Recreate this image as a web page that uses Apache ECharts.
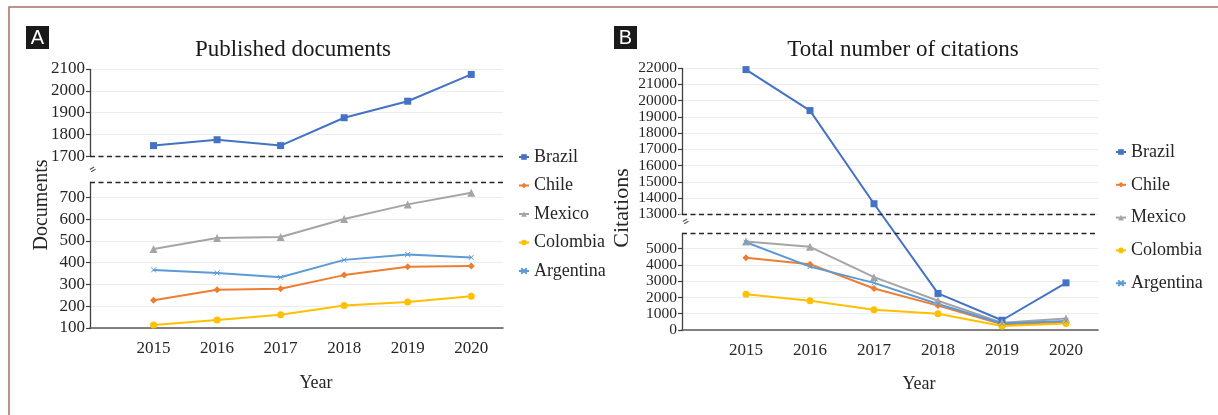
<!DOCTYPE html>
<html>
<head>
<meta charset="utf-8">
<title>Published documents and citations</title>
<script src="https://cdn.jsdelivr.net/npm/echarts@6/dist/echarts.min.js"></script>
<style>
  html, body { margin: 0; padding: 0; background: #fff; }
  #chart { width: 1218px; height: 415px; }
</style>
</head>
<body>
<div id="chart"></div>
<script>
// Years on the horizontal axis
const years = [2015, 2016, 2017, 2018, 2019, 2020];
const countries = ['Brazil', 'Chile', 'Mexico', 'Colombia', 'Argentina'];

// Panel A: published documents per year
const docsBrazil    = [1748, 1775, 1748, 1876, 1952, 2075];
const docsChile     = [228, 276, 280, 343, 381, 385];
const docsMexico    = [463, 514, 518, 601, 668, 721];
const docsColombia  = [114, 137, 161, 203, 220, 246];
const docsArgentina = [367, 353, 333, 413, 438, 424];

// Panel B: total number of citations per year
const citBrazil    = [21900, 19380, 13650, 2250, 600, 2900];
const citChile     = [4450, 4050, 2550, 1500, 350, 450];
const citMexico    = [5450, 5120, 3250, 1800, 450, 700];
const citColombia  = [2200, 1800, 1250, 1000, 250, 400];
const citArgentina = [5400, 3900, 2900, 1600, 400, 550];

// Tick labels on the broken value axes
const docTicks = [100, 200, 300, 400, 500, 600, 700, 1700, 1800, 1900, 2000, 2100];
const citTicks = [0, 1000, 2000, 3000, 4000, 5000,
                  13000, 14000, 15000, 16000, 17000, 18000, 19000, 20000, 21000, 22000];

const colors = {
  Brazil: '#4472C4',
  Chile: '#ED7D31',
  Mexico: '#A5A5A5',
  Colombia: '#FFC000',
  Argentina: '#5B9BD5'
};
const symbols = {
  Brazil: 'rect',
  Chile: 'diamond',
  Mexico: 'triangle',
  Colombia: 'circle',
  Argentina: 'path://M0,0L10,10M10,0L0,10'
};
const symbolSizes = { Brazil: 7, Chile: 7, Mexico: 8, Colombia: 7, Argentina: 5 };

const serif = '"Liberation Serif", "DejaVu Serif", serif';
const textColor = '#262626';

const docsByCountry = {
  Brazil: docsBrazil, Chile: docsChile, Mexico: docsMexico,
  Colombia: docsColombia, Argentina: docsArgentina
};
const citByCountry = {
  Brazil: citBrazil, Chile: citChile, Mexico: citMexico,
  Colombia: citColombia, Argentina: citArgentina
};

function pairs(values) {
  return years.map((y, i) => [y, values[i]]);
}

function makeSeries(name, values, axisIndex) {
  return {
    name: name,
    type: 'line',
    xAxisIndex: axisIndex,
    yAxisIndex: axisIndex,
    data: pairs(values),
    symbol: symbols[name],
    symbolSize: symbolSizes[name],
    showSymbol: true,
    showAllSymbol: true,
    lineStyle: { width: 2, color: colors[name] },
    itemStyle: { color: colors[name], borderColor: colors[name], borderWidth: name === 'Argentina' ? 1 : 0 },
    emphasis: { disabled: true },
    z: 3
  };
}

function xAxisFor(gridIndex) {
  return {
    type: 'value',
    gridIndex: gridIndex,
    min: 2014,
    max: 2020.5,
    interval: 1,
    axisLine: { show: true, lineStyle: { color: '#595959', width: 1.6 } },
    axisTick: { show: false },
    splitLine: { show: false },
    axisLabel: {
      margin: 12,
      fontFamily: serif,
      fontSize: 17,
      color: textColor,
      showMaxLabel: false,
      formatter: v => (Number.isInteger(v) && v >= 2015 && v <= 2020) ? String(v) : ''
    }
  };
}

function yAxisFor(gridIndex, min, max, interval, brk, ticks, fontSize) {
  return {
    type: 'value',
    gridIndex: gridIndex,
    min: min,
    max: max,
    interval: interval,
    breaks: [brk],
    breakArea: {
      show: true,
      itemStyle: {
        color: 'rgba(255,255,255,0)',
        borderColor: '#262626',
        borderWidth: 1.4,
        borderType: [5, 3.5]
      },
      zigzagAmplitude: 0,
      expandOnClick: false
    },
    breakLabelLayout: { moveOverlap: false },
    axisLine: { show: true, lineStyle: { color: '#404040', width: 1.3 } },
    axisTick: { show: true, length: 4, customValues: ticks, lineStyle: { color: '#404040', width: 1.2 } },
    splitLine: { show: true, lineStyle: { color: '#ececec', width: 1 } },
    axisLabel: {
      margin: 5,
      fontFamily: serif,
      fontSize: fontSize,
      lineHeight: 12,
      color: textColor,
      hideOverlap: false,
      showMinLabel: true,
      showMaxLabel: true,
      customValues: ticks,
      formatter: v => String(v)
    }
  };
}

const chart = echarts.init(document.getElementById('chart'), null, { renderer: 'canvas' });

const legendBase = {
  orient: 'vertical',
  itemWidth: 10,
  itemHeight: 7,
  selectedMode: false,
  textStyle: { fontFamily: serif, fontSize: 18, color: textColor, lineHeight: 20 }
};

const option = {
  animation: false,
  backgroundColor: '#ffffff',
  title: [
    { text: 'Published documents', left: 288, top: 33, textAlign: 'center',
      textStyle: { fontFamily: serif, fontSize: 23, fontWeight: 'normal', color: '#1a1a1a' } },
    { text: 'Total number of citations', left: 898, top: 33, textAlign: 'center',
      textStyle: { fontFamily: serif, fontSize: 23, fontWeight: 'normal', color: '#1a1a1a' } },
    { text: 'Year', left: 311, top: 369, textAlign: 'center',
      textStyle: { fontFamily: serif, fontSize: 18, fontWeight: 'normal', color: textColor } },
    { text: 'Year', left: 914, top: 370, textAlign: 'center',
      textStyle: { fontFamily: serif, fontSize: 18, fontWeight: 'normal', color: textColor } }
  ],
  legend: [
    Object.assign({}, legendBase, {
      data: countries.map(n => ({ name: n })),
      left: 513, top: 142, itemGap: 8.5
    }),
    Object.assign({}, legendBase, {
      data: countries.map(n => ({ name: n })),
      left: 1110, top: 137, itemGap: 12.8
    })
  ],
  grid: [
    { left: 90, top: 69, width: 413, height: 259 },
    { left: 682, top: 68, width: 416, height: 262 }
  ],
  xAxis: [xAxisFor(0), xAxisFor(1)],
  yAxis: [
    yAxisFor(0, 100, 2100, 100, { start: 770, end: 1700, gap: 120 }, docTicks, 17),
    yAxisFor(1, 0, 22000, 1000, { start: 5950, end: 13000, gap: 1170 }, citTicks, 15.5)
  ],
  series: [
    ...countries.map(n => makeSeries(n, docsByCountry[n], 0)),
    ...countries.map(n => makeSeries(n, citByCountry[n], 1))
  ],
  graphic: [
    // outer frame
    { type: 'rect', shape: { x: 9, y: 7, width: 1230, height: 430 },
      style: { fill: 'none', stroke: '#a86f64', lineWidth: 1.5 }, silent: true },
    // panel tags
    { type: 'rect', shape: { x: 26, y: 26, width: 23, height: 23 }, style: { fill: '#1a1a1a' }, silent: true },
    { type: 'text', x: 37.5, y: 38, style: { text: 'A', fill: '#ffffff', font: '20px "Liberation Sans", Arial, sans-serif', align: 'center', verticalAlign: 'middle' }, silent: true },
    { type: 'rect', shape: { x: 614, y: 26, width: 23, height: 23 }, style: { fill: '#1a1a1a' }, silent: true },
    { type: 'text', x: 625.5, y: 38, style: { text: 'B', fill: '#ffffff', font: '20px "Liberation Sans", Arial, sans-serif', align: 'center', verticalAlign: 'middle' }, silent: true },
    // y axis names
    { type: 'text', x: 42, y: 205, rotation: Math.PI / 2,
      style: { text: 'Documents', fill: textColor, font: '20px ' + serif, align: 'center', verticalAlign: 'middle' }, silent: true },
    { type: 'text', x: 622, y: 208, rotation: Math.PI / 2,
      style: { text: 'Citations', fill: textColor, font: '22px ' + serif, align: 'center', verticalAlign: 'middle' }, silent: true },
    // gaps in the vertical axis lines between the break lines
    { type: 'rect', shape: { x: 87, y: 157.5, width: 6, height: 23.5 }, style: { fill: '#ffffff' }, silent: true, z: 50 },
    { type: 'rect', shape: { x: 679, y: 214.5, width: 6, height: 16.5 }, style: { fill: '#ffffff' }, silent: true, z: 50 },
    // axis break marks
    { type: 'text', x: 93, y: 170, rotation: Math.PI / 6, z: 51,
      style: { text: '=', fill: '#555', font: 'bold 10px sans-serif', align: 'center', verticalAlign: 'middle' }, silent: true },
    { type: 'text', x: 686, y: 222, rotation: Math.PI / 6, z: 51,
      style: { text: '=', fill: '#555', font: 'bold 10px sans-serif', align: 'center', verticalAlign: 'middle' }, silent: true }
  ]
};

chart.setOption(option);
</script>
</body>
</html>
